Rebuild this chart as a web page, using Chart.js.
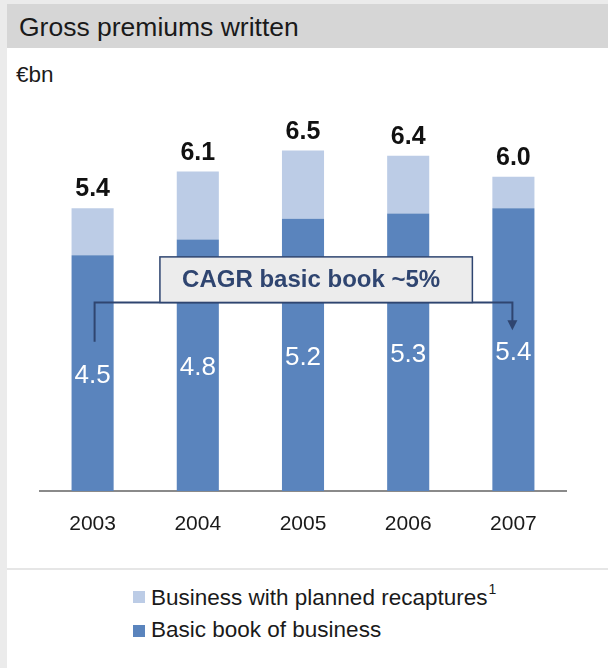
<!DOCTYPE html>
<html>
<head>
<meta charset="utf-8">
<script src="https://cdn.jsdelivr.net/npm/chart.js@4"></script>
<style>
  html,body{margin:0;padding:0;}
  body{width:608px;height:668px;background:#ebebeb;position:relative;overflow:hidden;font-family:"Liberation Sans",Arial,sans-serif;}
  #panel{position:absolute;left:7px;top:4px;width:601px;height:664px;background:#fff;}
  #titlebar{position:absolute;left:7px;top:4px;width:601px;height:44px;background:#d6d6d6;}
  #title{position:absolute;left:12px;top:1px;line-height:44px;font-size:26.5px;color:#1a1a1a;}
  #unit{position:absolute;left:16px;top:62px;font-size:22.5px;line-height:26px;color:#1a1a1a;}
  #chartwrap{position:absolute;left:0;top:0;width:608px;height:560px;}
  #sep{position:absolute;left:7px;top:568px;width:601px;height:2px;background:#e6e6e6;}
  .sq{position:absolute;left:133px;width:12px;height:12px;}
  .leg{position:absolute;left:151px;font-size:22.5px;color:#1a1a1a;line-height:26px;white-space:nowrap;}
  .leg sup{font-size:14px;vertical-align:11px;line-height:0;margin-left:1px;}
</style>
</head>
<body>
<div id="panel"></div>
<div id="titlebar"><div id="title">Gross premiums written</div></div>
<div id="unit">€bn</div>
<div id="chartwrap"><canvas id="c" width="608" height="560"></canvas></div>
<div id="sep"></div>
<div class="sq" style="top:591px;background:#bccce6"></div>
<div class="leg" style="top:585px">Business with planned recaptures<sup>1</sup></div>
<div class="sq" style="top:625px;background:#5a84bd"></div>
<div class="leg" style="top:617px">Basic book of business</div>
<script>
const years = ['2003','2004','2005','2006','2007'];
const basicBook = [4.5, 4.8, 5.2, 5.3, 5.4];
const recaptures = [0.9, 1.3, 1.3, 1.1, 0.6];
const totals = ['5.4','6.1','6.5','6.4','6.0'];
const basicLabels = ['4.5','4.8','5.2','5.3','5.4'];
const cagrText = 'CAGR basic book ~5%';

const FONT = '"Liberation Sans", Arial, sans-serif';

const labelPlugin = {
  id: 'labels',
  afterDatasetsDraw(chart) {
    const ctx = chart.ctx;
    const x = chart.scales.x, y = chart.scales.y;
    const m0 = chart.getDatasetMeta(0), m1 = chart.getDatasetMeta(1);
    ctx.save();
    // totals above
    ctx.font = 'bold 25px ' + FONT;
    ctx.fillStyle = '#111';
    ctx.textAlign = 'center';
    ctx.textBaseline = 'alphabetic';
    m1.data.forEach((bar, i) => {
      ctx.fillText(totals[i], bar.x, bar.y - 12);
    });
    // CAGR bracket and box (in data units)
    const navy = '#2f4570';
    const xs = x.getPixelForValue(0) + 2;
    const xe = x.getPixelForValue(4) - 1;
    const yl = y.getPixelForValue(3.6);
    const ys = y.getPixelForValue(2.85);
    const ytip = y.getPixelForValue(3.07);
    ctx.strokeStyle = navy;
    ctx.lineWidth = 2;
    ctx.beginPath();
    ctx.moveTo(xs, ys);
    ctx.lineTo(xs, yl);
    ctx.lineTo(xe, yl);
    ctx.lineTo(xe, ytip - 8);
    ctx.stroke();
    ctx.fillStyle = navy;
    ctx.beginPath();
    ctx.moveTo(xe - 5, ytip - 10);
    ctx.lineTo(xe + 5, ytip - 10);
    ctx.lineTo(xe, ytip);
    ctx.closePath();
    ctx.fill();
    // box
    const bx0 = x.getPixelForValue(0.64), bx1 = x.getPixelForValue(3.61);
    const by0 = y.getPixelForValue(4.47), by1 = yl;
    ctx.fillStyle = '#ececec';
    ctx.fillRect(bx0, by0, bx1 - bx0, by1 - by0);
    ctx.lineWidth = 1.5;
    ctx.strokeRect(bx0, by0, bx1 - bx0, by1 - by0);
    ctx.fillStyle = navy;
    ctx.font = 'bold 24px ' + FONT;
    ctx.textBaseline = 'middle';
    ctx.fillText(cagrText, (bx0 + bx1) / 2 - 5, (by0 + by1) / 2 + 1);
    // inner labels
    ctx.font = '26px ' + FONT;
    ctx.fillStyle = '#fff';
    m0.data.forEach((bar, i) => {
      ctx.fillText(basicLabels[i], bar.x, (bar.y + bar.base) / 2 + 3);
    });
    ctx.restore();
  }
};

new Chart(document.getElementById('c'), {
  type: 'bar',
  data: {
    labels: years,
    datasets: [
      { label: 'Basic book of business', data: basicBook, backgroundColor: '#5a84bd', borderWidth: 0 },
      { label: 'Business with planned recaptures', data: recaptures, backgroundColor: '#bccce6', borderWidth: 0 }
    ]
  },
  options: {
    responsive: false,
    animation: false,
    layout: { padding: { top: 72, left: 40, right: 42, bottom: 0 } },
    plugins: { legend: { display: false }, tooltip: { enabled: false } },
    datasets: { bar: { barPercentage: 0.4, categoryPercentage: 1 } },
    scales: {
      x: {
        stacked: true,
        grid: { display: false, drawTicks: false },
        border: { display: true, color: '#8a8a8a', width: 2 },
        ticks: { color: '#1a1a1a', font: { family: FONT, size: 21 }, padding: 21 },
        afterFit(s) { s.height = 69; }
      },
      y: { stacked: true, display: false, min: 0, max: 8 }
    }
  },
  plugins: [labelPlugin]
});
</script>
</body>
</html>
